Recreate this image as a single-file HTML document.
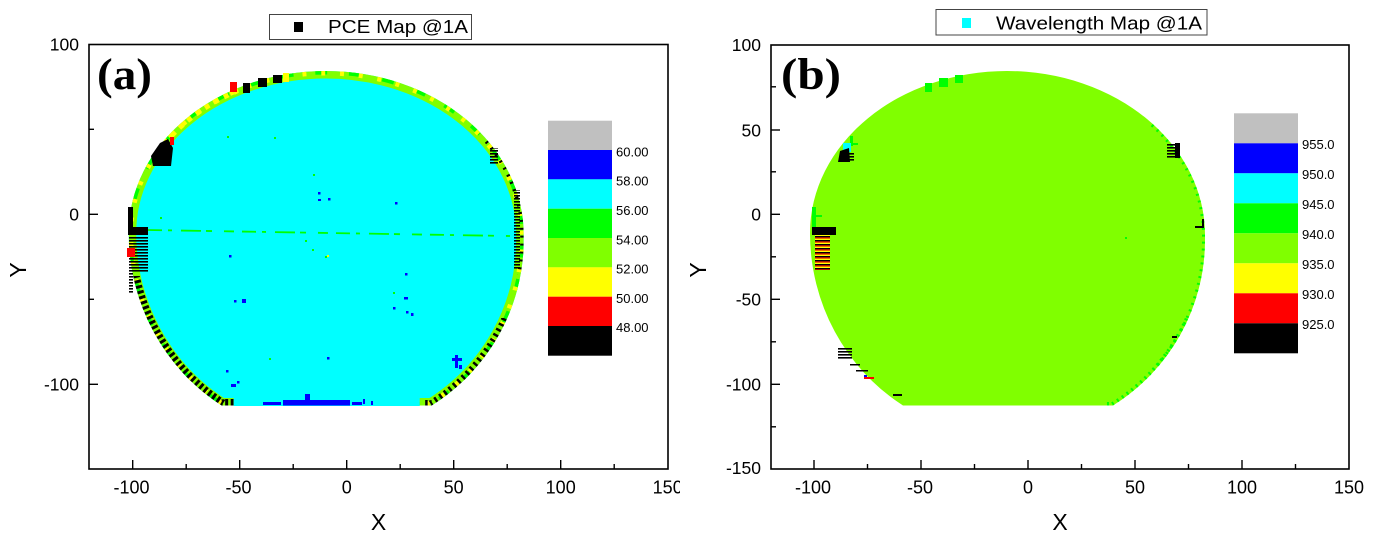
<!DOCTYPE html>
<html><head><meta charset="utf-8"><style>
html,body{margin:0;padding:0;background:#fff;}
svg{display:block;}
text{font-family:"Liberation Sans",Arial,sans-serif;fill:#000;}
.ser{font-family:"Liberation Serif","Times New Roman",serif;font-weight:bold;}
</style></head><body>
<svg width="1383" height="544" viewBox="0 0 1383 544" xmlns="http://www.w3.org/2000/svg">
<defs>
<path id="w" d="M810,233 A197,162 0 0 1 1007,71 A198,164 0 0 1 1205,235 L1205,240 A198,196 0 0 1 1113,405.5 L903,405.5 A197,203 0 0 1 810,233 Z"/>
<clipPath id="cw" clipPathUnits="userSpaceOnUse"><use href="#w"/></clipPath>
<clipPath id="ll" clipPathUnits="userSpaceOnUse"><rect x="800" y="276" width="115" height="135"/></clipPath>
<clipPath id="lr" clipPathUnits="userSpaceOnUse"><rect x="1105" y="318" width="100" height="92"/></clipPath>
<clipPath id="rm" clipPathUnits="userSpaceOnUse"><rect x="1150" y="140" width="60" height="135"/></clipPath>
<clipPath id="tl" clipPathUnits="userSpaceOnUse"><rect x="840" y="70" width="80" height="80"/></clipPath>
<clipPath id="rg" clipPathUnits="userSpaceOnUse"><rect x="1150" y="110" width="60" height="270"/></clipPath>
<pattern id="hb" width="6" height="3" patternUnits="userSpaceOnUse"><rect width="6" height="1.6" fill="#000"/></pattern>
<pattern id="hy" width="6" height="4" patternUnits="userSpaceOnUse"><rect width="6" height="1.4" fill="#000"/><rect y="1.4" width="6" height="1.3" fill="#ff0000"/><rect y="2.7" width="6" height="1.3" fill="#ffff00"/></pattern>
</defs>

<!-- ================= PANEL A ================= -->
<g transform="translate(-681.3 0)">
  <use href="#w" fill="#00ffff"/>
  <g clip-path="url(#cw)">
    <use href="#w" fill="none" stroke="#80ff00" stroke-width="15"/>
    <use href="#w" fill="none" stroke="#00ff00" stroke-width="7" stroke-dasharray="12 22"/>
    <use href="#w" fill="none" stroke="#ffff00" stroke-width="9" stroke-dasharray="4 15" stroke-dashoffset="7"/>
    <g clip-path="url(#ll)"><use href="#w" fill="none" stroke="#000" stroke-width="13" stroke-dasharray="3 2.5"/></g>
    <g clip-path="url(#lr)"><use href="#w" fill="none" stroke="#000" stroke-width="11" stroke-dasharray="2.5 3.5"/></g>
    <g clip-path="url(#rm)"><use href="#w" fill="none" stroke="#000" stroke-width="7" stroke-dasharray="2 6"/></g>
    <g clip-path="url(#tl)"><use href="#w" fill="none" stroke="#ffff00" stroke-width="10" stroke-dasharray="5 6"/></g>
  </g>
  <rect x="915" y="397" width="186" height="9" fill="#00ffff"/>
</g>
<!-- top rim squares -->
<rect x="230" y="82" width="7" height="10" fill="#ff0000"/>
<rect x="243" y="83" width="7" height="10" fill="#000"/>
<rect x="258" y="78" width="9" height="9" fill="#000"/>
<rect x="273" y="75" width="9" height="8" fill="#000"/>
<rect x="283" y="73" width="6" height="9" fill="#ffff00"/>
<!-- upper-left blob -->
<path d="M160,143 L168,139 L173,148 L171,166 L153,166 L151,156 Z" fill="#000"/>
<rect x="170" y="137" width="4" height="8" fill="#ff0000"/>
<!-- left hatch zone -->
<rect x="128" y="207" width="5" height="28" fill="#000"/>
<rect x="128" y="227" width="20" height="8" fill="#000"/>
<rect x="129" y="236" width="19" height="36" fill="url(#hb)"/>
<rect x="127" y="248" width="8" height="9" fill="#ff0000"/>
<rect x="129" y="272" width="4" height="22" fill="url(#hb)"/>
<!-- right side black bits -->
<rect x="490" y="148" width="8" height="17" fill="url(#hb)"/>
<rect x="514" y="190" width="6" height="80" fill="url(#hb)"/>
<!-- green dashed horizontal line -->
<line x1="148" y1="230" x2="510" y2="236" stroke="#00ff00" stroke-width="1.8" stroke-dasharray="14 6 4 9 20 5 6 12 10 8"/>
<!-- blue dots -->
<g fill="#0000ff">
<rect x="318" y="192" width="2.5" height="2.5"/><rect x="318" y="199" width="3" height="2"/><rect x="328" y="198" width="2.5" height="2.5"/>
<rect x="395" y="202" width="2.5" height="2.5"/><rect x="229" y="255" width="2.5" height="2.5"/>
<rect x="234" y="300" width="2.5" height="2.5"/><rect x="242" y="299" width="4" height="4"/>
<rect x="327" y="357" width="2.5" height="2.5"/><rect x="226" y="370" width="2.5" height="2.5"/>
<rect x="231" y="384" width="5" height="3"/><rect x="237" y="381" width="2.5" height="2.5"/>
<rect x="405" y="273" width="2.5" height="2.5"/><rect x="404" y="297" width="4" height="2.5"/>
<rect x="393" y="307" width="2.5" height="2.5"/><rect x="406" y="311" width="2.5" height="2.5"/><rect x="411" y="313" width="2.5" height="3"/>
<rect x="452" y="358" width="10" height="3"/><rect x="455" y="355" width="3" height="13"/><rect x="459" y="365" width="3" height="4"/>
<rect x="283" y="400" width="67" height="5.5"/><rect x="263" y="402" width="18" height="3"/>
<rect x="305" y="394" width="5" height="7"/><rect x="352" y="402" width="10" height="3"/><rect x="363" y="399" width="2" height="5"/><rect x="371" y="401" width="2" height="4"/>
</g>
<g fill="#00ff00">
<rect x="227" y="136" width="2" height="2"/><rect x="274" y="137" width="2" height="2"/><rect x="313" y="174" width="2" height="2"/><rect x="160" y="217" width="2" height="2"/>
<rect x="305" y="240" width="2" height="2"/><rect x="312" y="249" width="2" height="2"/><rect x="325" y="256" width="2" height="2"/><rect x="269" y="358" width="2" height="2"/><rect x="393" y="292" width="2" height="2"/>
</g>
<rect x="327" y="255" width="2" height="2" fill="#ffff00"/>

<!-- axes A -->
<g stroke="#000" stroke-width="1.6" fill="none">
<rect x="89" y="44.5" width="579" height="424.5"/>
</g>
<g stroke="#000" stroke-width="1.4">
<line x1="132.7" y1="469" x2="132.7" y2="460"/><line x1="239.7" y1="469" x2="239.7" y2="460"/><line x1="346.7" y1="469" x2="346.7" y2="460"/><line x1="453.7" y1="469" x2="453.7" y2="460"/><line x1="560.7" y1="469" x2="560.7" y2="460"/>
<line x1="186.2" y1="469" x2="186.2" y2="464"/><line x1="293.2" y1="469" x2="293.2" y2="464"/><line x1="400.2" y1="469" x2="400.2" y2="464"/><line x1="507.2" y1="469" x2="507.2" y2="464"/><line x1="614.2" y1="469" x2="614.2" y2="464"/>
<line x1="89" y1="214.3" x2="98" y2="214.3"/><line x1="89" y1="384.3" x2="98" y2="384.3"/>
<line x1="89" y1="129.3" x2="94" y2="129.3"/><line x1="89" y1="299.3" x2="94" y2="299.3"/>
</g>
<g font-size="17.5" text-anchor="end">
<text x="79" y="50.5">100</text><text x="79" y="220.5">0</text><text x="79" y="390.5">-100</text>
</g>
<g font-size="18" text-anchor="middle">
<text x="131.5" y="493.5">-100</text><text x="238.5" y="493.5">-50</text><text x="346.7" y="493.5">0</text><text x="453.7" y="493.5">50</text><text x="560.7" y="493.5">100</text><text x="667.7" y="493.5">150</text>
</g>
<rect x="680" y="474" width="30" height="28" fill="#fff"/>
<text x="378.5" y="530" font-size="23" text-anchor="middle">X</text>
<text transform="translate(26 270) rotate(-90)" font-size="23" text-anchor="middle">Y</text>
<text class="ser" x="97" y="89" font-size="44" textLength="55" lengthAdjust="spacingAndGlyphs">(a)</text>
<!-- legend A -->
<rect x="269.5" y="14.5" width="202" height="25" fill="#fff" stroke="#444" stroke-width="1"/>
<rect x="294" y="22" width="9" height="10" fill="#000"/>
<text x="328" y="33" font-size="18" textLength="140" lengthAdjust="spacingAndGlyphs">PCE Map @1A</text>
<!-- colorbar A -->
<g>
<rect x="548" y="120.7" width="64" height="29.4" fill="#c0c0c0"/>
<rect x="548" y="150" width="64" height="29.4" fill="#0000ff"/>
<rect x="548" y="179.3" width="64" height="29.4" fill="#00ffff"/>
<rect x="548" y="208.7" width="64" height="29.4" fill="#00ff00"/>
<rect x="548" y="238" width="64" height="29.4" fill="#80ff00"/>
<rect x="548" y="267.3" width="64" height="29.4" fill="#ffff00"/>
<rect x="548" y="296.7" width="64" height="29.4" fill="#ff0000"/>
<rect x="548" y="326" width="64" height="29.7" fill="#000"/>
</g>
<g font-size="13" fill="#222">
<text x="616" y="156.4">60.00</text><text x="616" y="185.7">58.00</text><text x="616" y="215">56.00</text><text x="616" y="244.3">54.00</text><text x="616" y="273.6">52.00</text><text x="616" y="302.9">50.00</text><text x="616" y="332.2">48.00</text>
</g>

<!-- ================= PANEL B ================= -->
<use href="#w" fill="#80ff00"/>
<g clip-path="url(#cw)">
  <g clip-path="url(#rg)"><use href="#w" fill="none" stroke="#00ff00" stroke-width="6" stroke-dasharray="2 5"/></g>
  <g clip-path="url(#lr)"><use href="#w" fill="none" stroke="#00ff00" stroke-width="7" stroke-dasharray="2 4"/></g>
</g>
<rect x="925" y="83" width="7" height="9" fill="#00ff00"/>
<rect x="939" y="78" width="9" height="9" fill="#00ff00"/>
<rect x="955" y="75" width="8" height="8" fill="#00ff00"/>
<rect x="850" y="136" width="3" height="10" fill="#00ff00"/><rect x="850" y="143" width="8" height="2" fill="#00ff00"/>
<rect x="843" y="143" width="8" height="9" fill="#00ffff"/>
<path d="M840,151 L849,148 L850,162 L838,162 Z" fill="#000"/>
<rect x="840" y="152" width="14" height="9" fill="url(#hb)"/>
<rect x="812" y="207" width="4" height="20" fill="#00ff00"/><rect x="812" y="215" width="10" height="2" fill="#00ff00"/>
<rect x="812" y="227" width="24" height="8" fill="#000"/>
<rect x="815" y="235" width="15" height="35" fill="url(#hy)"/>
<rect x="838" y="347" width="14" height="13" fill="url(#hb)"/>
<rect x="850" y="364" width="10" height="1.5" fill="#000"/><rect x="856" y="370" width="12" height="1.5" fill="#000"/>
<rect x="864" y="377" width="10" height="2" fill="#ff0000"/><rect x="864" y="375" width="3" height="2" fill="#0000ff"/>
<rect x="893" y="394" width="9" height="2" fill="#000"/>
<rect x="1167" y="143" width="13" height="15" fill="url(#hb)"/><rect x="1175" y="143" width="5" height="15" fill="#000"/>
<rect x="1202" y="219" width="2" height="9" fill="#000"/><rect x="1195" y="226" width="9" height="2" fill="#000"/>
<rect x="1172" y="336" width="5" height="2" fill="#000"/>
<rect x="1125" y="237" width="2" height="2" fill="#00ff00"/>

<!-- axes B -->
<g stroke="#000" stroke-width="1.6" fill="none">
<rect x="771" y="45" width="578" height="424"/>
</g>
<g stroke="#000" stroke-width="1.4">
<line x1="814" y1="469" x2="814" y2="460"/><line x1="921" y1="469" x2="921" y2="460"/><line x1="1028" y1="469" x2="1028" y2="460"/><line x1="1135" y1="469" x2="1135" y2="460"/><line x1="1242" y1="469" x2="1242" y2="460"/>
<line x1="867.5" y1="469" x2="867.5" y2="464"/><line x1="974.5" y1="469" x2="974.5" y2="464"/><line x1="1081.5" y1="469" x2="1081.5" y2="464"/><line x1="1188.5" y1="469" x2="1188.5" y2="464"/><line x1="1295.5" y1="469" x2="1295.5" y2="464"/>
<line x1="771" y1="130" x2="780" y2="130"/><line x1="771" y1="214.3" x2="780" y2="214.3"/><line x1="771" y1="299.3" x2="780" y2="299.3"/><line x1="771" y1="384.3" x2="780" y2="384.3"/>
<line x1="771" y1="86.8" x2="776" y2="86.8"/><line x1="771" y1="171.8" x2="776" y2="171.8"/><line x1="771" y1="256.8" x2="776" y2="256.8"/><line x1="771" y1="341.8" x2="776" y2="341.8"/><line x1="771" y1="426.8" x2="776" y2="426.8"/>
</g>
<g font-size="17.5" text-anchor="end">
<text x="761" y="51">100</text><text x="761" y="136.3">50</text><text x="761" y="220.5">0</text><text x="761" y="305.6">-50</text><text x="761" y="390.5">-100</text><text x="761" y="474">-150</text>
</g>
<g font-size="18" text-anchor="middle">
<text x="813" y="493.5">-100</text><text x="920" y="493.5">-50</text><text x="1028" y="493.5">0</text><text x="1135" y="493.5">50</text><text x="1242" y="493.5">100</text><text x="1349" y="493.5">150</text>
</g>
<text x="1060" y="530" font-size="23" text-anchor="middle">X</text>
<text transform="translate(706 270) rotate(-90)" font-size="23" text-anchor="middle">Y</text>
<text class="ser" x="781" y="89" font-size="44" textLength="60" lengthAdjust="spacingAndGlyphs">(b)</text>
<!-- legend B -->
<rect x="936" y="9.5" width="271" height="25.5" fill="#fff" stroke="#444" stroke-width="1"/>
<rect x="962" y="18" width="9" height="10" fill="#00ffff"/>
<text x="996" y="29.3" font-size="18" textLength="206" lengthAdjust="spacingAndGlyphs">Wavelength Map @1A</text>
<!-- colorbar B -->
<g>
<rect x="1234" y="113.3" width="64" height="30" fill="#c0c0c0"/>
<rect x="1234" y="143.3" width="64" height="30" fill="#0000ff"/>
<rect x="1234" y="173.3" width="64" height="30" fill="#00ffff"/>
<rect x="1234" y="203.3" width="64" height="30" fill="#00ff00"/>
<rect x="1234" y="233.3" width="64" height="30" fill="#80ff00"/>
<rect x="1234" y="263.3" width="64" height="30" fill="#ffff00"/>
<rect x="1234" y="293.3" width="64" height="30" fill="#ff0000"/>
<rect x="1234" y="323.3" width="64" height="30" fill="#000"/>
</g>
<g font-size="13" fill="#222">
<text x="1302" y="149">955.0</text><text x="1302" y="179">950.0</text><text x="1302" y="209">945.0</text><text x="1302" y="239">940.0</text><text x="1302" y="269">935.0</text><text x="1302" y="299">930.0</text><text x="1302" y="329">925.0</text>
</g>
</svg>
</body></html>
